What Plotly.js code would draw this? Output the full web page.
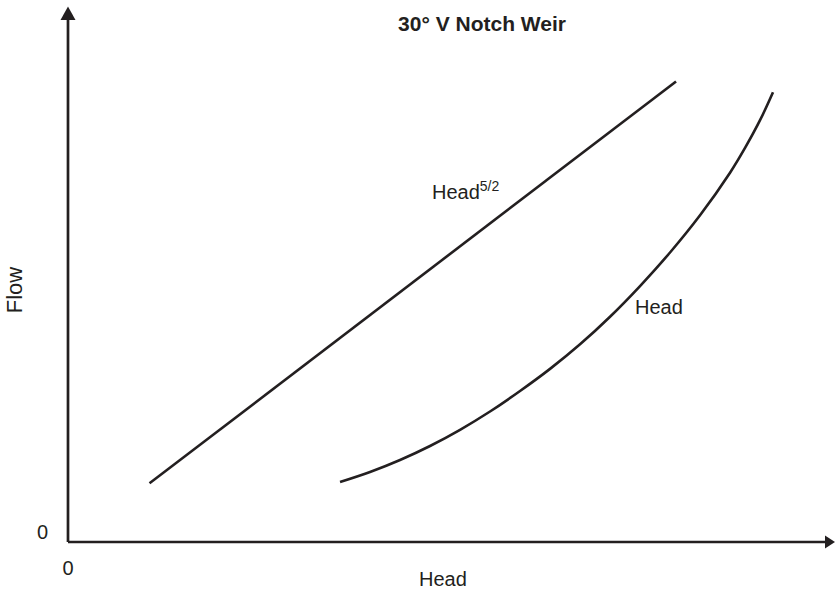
<!DOCTYPE html>
<html>
<head>
<meta charset="utf-8">
<script src="https://cdn.plot.ly/plotly-3.0.1.min.js"></script>
<style>html,body{margin:0;padding:0;background:#fff;}</style>
</head>
<body>
<div id="chart" style="width:835px;height:596px;"></div>
<script>
// Straight line: Flow vs Head^(5/2)
const lineX = [10.87, 81.07];
const lineY = [11.65, 91.37];
// Curve: Flow vs Head
const curveX = [36.27, 40.27, 44.27, 48.27, 52.27, 56.27, 60.27, 64.27, 68.27, 72.27, 76.27, 80.27, 84.27, 88.27, 90.27, 92.27, 94.0];
const curveY = [11.90, 13.89, 16.27, 19.05, 22.26, 25.89, 29.96, 34.35, 39.23, 44.70, 50.79, 57.44, 64.82, 73.27, 78.19, 83.69, 89.25];
const tickVals = [0];
const tickText = ['0'];

const ink = '#231f20';
const fam = 'Liberation Sans, Arial, sans-serif';
const font = {family: fam, size: 20, color: ink};

const traces = [
  {x: lineX, y: lineY, mode: 'lines', line: {color: ink, width: 2.6}, hoverinfo: 'skip', name: 'Head^5/2'},
  {x: curveX, y: curveY, mode: 'lines', line: {color: ink, width: 2.6, shape: 'spline', smoothing: 1}, hoverinfo: 'skip', name: 'Head'}
];

const layout = {
  width: 835, height: 596,
  margin: {l: 68, r: 17, t: 38, b: 54, pad: 0},
  paper_bgcolor: '#fff', plot_bgcolor: '#fff',
  showlegend: false,
  font: font,
  title: {text: '<b>30° V Notch Weir</b>', x: 482/835, xanchor: 'center', y: 1 - 24/596, yanchor: 'middle',
          font: {family: fam, size: 21, color: ink}},
  xaxis: {range: [0, 100], showgrid: false, zeroline: false, showline: false, ticks: '',
          tickvals: tickVals, ticktext: tickText, ticklabelstandoff: 12,
          tickfont: font, fixedrange: true},
  yaxis: {range: [0, 100], showgrid: false, zeroline: false, showline: false, ticks: '',
          tickvals: tickVals, ticktext: tickText, ticklabelstandoff: 19, ticklabelshift: -10,
          tickfont: font, fixedrange: true,
          title: {text: 'Flow', font: {family: fam, size: 22, color: ink}, standoff: 8}},
  shapes: [
    {type: 'line', xref: 'paper', yref: 'paper', x0: 0, y0: 0, x1: 0, y1: (542-19)/504, line: {color: ink, width: 2.7}},
    {type: 'line', xref: 'paper', yref: 'paper', x0: 0, y0: 0, x1: (826-68)/750, y1: 0, line: {color: ink, width: 2.7}},
    {type: 'path', xref: 'paper', yref: 'paper', fillcolor: ink, line: {width: 0},
     path: `M 0 ${(542-6.5)/504} L ${-7.5/750} ${(542-20)/504} L ${7.5/750} ${(542-20)/504} Z`},
    {type: 'path', xref: 'paper', yref: 'paper', fillcolor: ink, line: {width: 0},
     path: `M ${(835-68)/750} 0 L ${(825-68)/750} ${6.5/504} L ${(825-68)/750} ${-6.5/504} Z`}
  ],
  annotations: [
    {x: 48.2, y: (542-205)/5.04, xref: 'x', yref: 'y', text: 'Head<sup>5/2</sup>', showarrow: false,
     xanchor: 'left', yanchor: 'bottom', font: font},
    {x: (633-68)/7.5, y: (542-307)/5.04, xref: 'x', yref: 'y', text: 'Head', showarrow: false,
     xanchor: 'left', yanchor: 'middle', font: font},
    {x: (443-68)/750, y: (542-579)/504, xref: 'paper', yref: 'paper', text: 'Head', showarrow: false,
     xanchor: 'center', yanchor: 'middle', font: font}
  ]
};

Plotly.newPlot('chart', traces, layout, {displayModeBar: false, staticPlot: true});
</script>
</body>
</html>
